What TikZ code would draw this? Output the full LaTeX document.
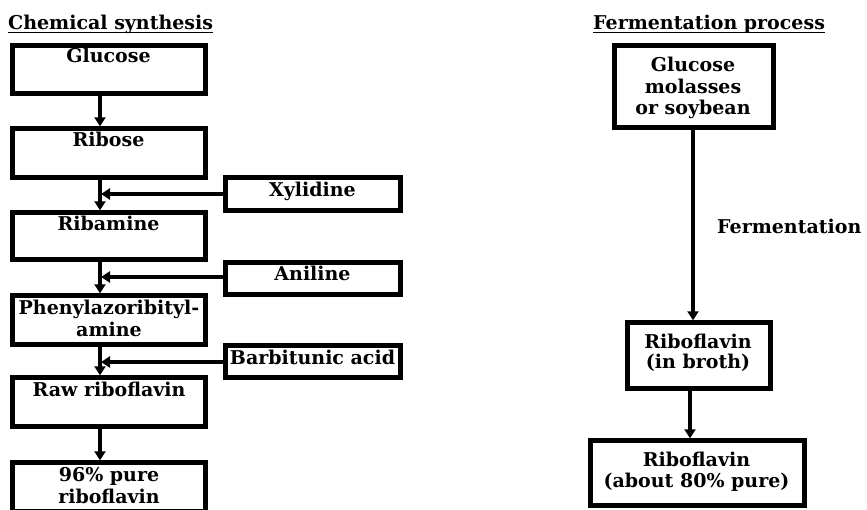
\documentclass[tikz,border=0pt]{standalone}
\usepackage{fontspec}
\setmainfont{DejaVu Serif}
\usetikzlibrary{arrows.meta}
\begin{document}
\begin{tikzpicture}[x=1pt,y=-1pt,
  box/.style={draw, line width=4.4pt, rectangle, inner sep=0pt},
  txt/.style={font=\bfseries\fontsize{19}{21.7}\selectfont, inner sep=0pt, anchor=base, align=center},
  ttl/.style={font=\bfseries\fontsize{19}{20}\selectfont, inner sep=0pt, anchor=base west},
  arr/.style={line width=3.2pt, -{Triangle[length=9pt,width=11pt]}}]
\useasboundingbox (0,0) rectangle (867,510);
\clip (0,0) rectangle (867,510);
% titles
\node[ttl] (t1) at (8,30) {Chemical synthesis};
\draw[line width=1.3pt] ([yshift=-2.6pt]t1.base west) -- ([yshift=-2.6pt]t1.base east);
\node[ttl] (t2) at (593,30) {Fermentation process};
\draw[line width=1.3pt] ([yshift=-2.6pt]t2.base west) -- ([yshift=-2.6pt]t2.base east);
% left boxes
\node[box, minimum width=193, minimum height=48] (b1) at (109,69.5) {};
\node[box, minimum width=193, minimum height=49] (b2) at (109,153) {};
\node[box, minimum width=193, minimum height=47] (b3) at (109,236) {};
\node[box, minimum width=193, minimum height=49] (b4) at (109,320) {};
\node[box, minimum width=193, minimum height=49] (b5) at (109,402) {};
\node[box, minimum width=193, minimum height=49] (b6) at (109,487) {};
\node[txt] (l1) at (108.5,63) {Glucose};
\node[txt] (l2) at (108.5,147) {Ribose};
\node[txt] (l3) at (108.5,230.5) {Ribamine};
\node[txt] (l4) at (109,336.5) {Phenylazoribityl-\\amine};
\node[txt] (l5) at (109,396.5) {Raw riboflavin};
\node[txt] (l6) at (109,503.3) {96\% pure\\riboflavin};
% side boxes
\node[box, minimum width=175, minimum height=33] (s1) at (313,194) {};
\node[box, minimum width=175, minimum height=32] (s2) at (313,278.5) {};
\node[box, minimum width=175, minimum height=32] (s3) at (313,361.5) {};
\node[txt] (sl1) at (312.5,196.5) {Xylidine};
\node[txt] (sl2) at (312.5,281) {Aniline};
\node[txt] (sl3) at (312.5,364.5) {Barbitunic acid};
% left vertical arrows
\foreach \a/\b in {b1/b2,b2/b3,b3/b4,b4/b5,b5/b6}
  \draw[arr] ([xshift=-9pt]\a.south) -- ([xshift=-9pt]\a.south |- \b.north);
% side arrows
\coordinate (j1) at (101,194);
\coordinate (j2) at (101,277);
\coordinate (j3) at (101,362);
\draw[arr] (s1.west |- j1) -- (j1);
\draw[arr] (s2.west |- j2) -- (j2);
\draw[arr] (s3.west |- j3) -- (j3);
% right column
\node[box, minimum width=159, minimum height=82] (r1) at (694,86.5) {};
\node[box, minimum width=143, minimum height=66] (r2) at (699,355.5) {};
\node[box, minimum width=214, minimum height=65] (r3) at (697.5,473) {};
\node[txt] (rl1) at (693,115) {Glucose\\molasses\\or soybean};
\node[txt, font=\bfseries\fontsize{19}{20.5}\selectfont] (rl2) at (698,368.8) {Riboflavin\\(in broth)};
\node[txt, font=\bfseries\fontsize{19}{20.5}\selectfont] (rl3) at (696.5,487.2) {Riboflavin\\(about 80\% pure)};
\node[ttl] (fe) at (717,233.3) {Fermentation};
\draw[arr] ([xshift=-1pt]r1.south) -- ([xshift=-1pt]r1.south |- r2.north);
\draw[arr] ([xshift=-9pt]r2.south) -- ([xshift=-9pt]r2.south |- r3.north);
\end{tikzpicture}
\end{document}
